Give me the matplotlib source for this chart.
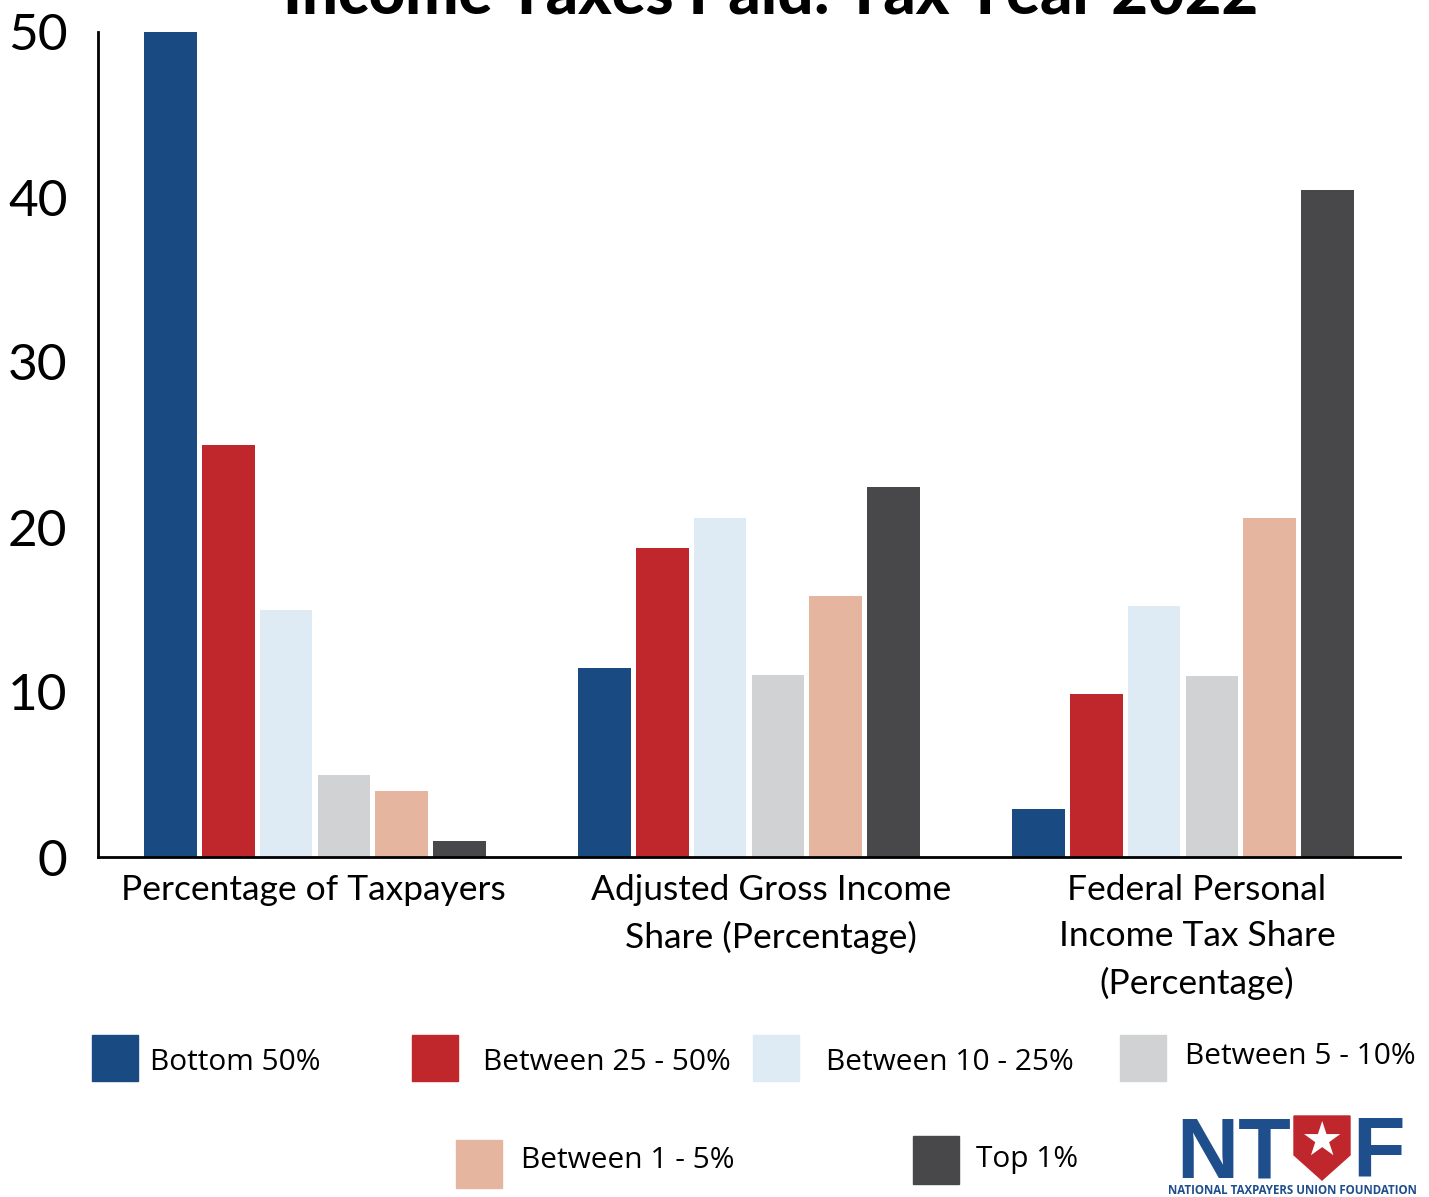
import numpy as np
import matplotlib
matplotlib.use("Agg")
import matplotlib.pyplot as plt
from matplotlib.patches import Rectangle, Polygon
from matplotlib import font_manager
import matplotlib.transforms as mtransforms

# ---------------- data ----------------
categories = ["Percentage of Taxpayers",
              "Adjusted Gross Income\nShare (Percentage)",
              "Federal Personal\nIncome Tax Share\n(Percentage)"]
series_names = ["Bottom 50%", "Between 25 - 50%", "Between 10 - 25%",
                "Between 5 - 10%", "Between 1 - 5%", "Top 1%"]
bottom_50 = [50.0, 11.44, 2.92]
between_25_50 = [25.0, 18.7, 9.9]
between_10_25 = [15.0, 20.55, 15.2]
between_5_10 = [5.0, 11.03, 10.96]
between_1_5 = [4.0, 15.82, 20.55]
top_1 = [1.0, 22.42, 40.42]
series_values = [bottom_50, between_25_50, between_10_25, between_5_10, between_1_5, top_1]
y_ticks = [0, 10, 20, 30, 40, 50]
colors = ["#1a4a82", "#c0272d", "#deeaf4", "#d1d2d4", "#e6b5a0", "#48484a"]

available = {f.name for f in font_manager.fontManager.ttflist}
def pick(*names):
    for n in names:
        if n in available:
            return n
    return "DejaVu Sans"

main_font = pick("Lato", "Open Sans", "DejaVu Sans")
legend_font = pick("Liberation Sans Narrow", "Open Sans", "DejaVu Sans")
logo_font = pick("Liberation Sans", "DejaVu Sans")

W, H = 1429, 1197
fig = plt.figure(figsize=(W / 100, H / 100), dpi=100)

def fx(x):
    return x / W
def fy(y):
    return 1 - y / H

ax = fig.add_axes([fx(98), fy(857), fx(1400) - fx(98), fy(32) - fy(857)])

x = np.arange(len(categories))
step = 0.1336
width = 0.122
for i, (name, vals, c) in enumerate(zip(series_names, series_values, colors)):
    ax.bar(x + (i - 2.5) * step, vals, width=width, color=c, label=name, zorder=2)

ax.set_xlim(-0.5, 2.5)
ax.set_ylim(0, 50)
ax.set_yticks(y_ticks)
ax.set_yticklabels([str(t) for t in y_ticks], fontsize=37, family=main_font)
ax.set_xticks(x)
ax.set_xticklabels(categories, fontsize=25.5, family=main_font, linespacing=1.55,
                   va="top")
ax.tick_params(axis="both", length=0)
ax.tick_params(axis="y", pad=22)
ax.tick_params(axis="x", pad=12)
label_shift_px = [-2, 22, 14]
for lab, dx in zip(ax.get_xticklabels(), label_shift_px):
    lab.set_transform(lab.get_transform() +
                      mtransforms.ScaledTranslation(dx / 100, 0, fig.dpi_scale_trans))
for s in ["top", "right"]:
    ax.spines[s].set_visible(False)
ax.spines["left"].set_linewidth(2)
ax.spines["bottom"].set_linewidth(2)

# title (cut off at the top as in the reference)
fig.text(fx(771), fy(13), "Income Taxes Paid: Tax Year 2022", ha="center", va="baseline",
         fontsize=45.5, fontweight="black", family=main_font)

# legend (manual layout)
legend_items = [
    (0, 92, 1035, 150, 1062),
    (1, 412, 1035, 483, 1062),
    (2, 753, 1035, 826, 1062),
    (3, 1120, 1035, 1185, 1056),
    (4, 456, 1140, 521, 1160),
    (5, 913, 1136, 976, 1160),
]
for idx, sx, sy, tx, ty in legend_items:
    size = 48 if idx >= 4 else 46
    fig.patches.append(Rectangle((fx(sx), fy(sy + size)), fx(46), size / H,
                                 transform=fig.transFigure, color=colors[idx]))
    fig.text(fx(tx), fy(ty), series_names[idx], ha="left", va="center",
             fontsize=21.5, family=legend_font)

# NTUF logo
blue = "#1f4e8c"
red = "#c0272d"
fig.text(fx(1291), fy(1177), "NT", ha="right", va="baseline", fontsize=62,
         fontweight="bold", color=blue, family=logo_font)
fig.text(fx(1352), fy(1177), "F", ha="left", va="baseline", fontsize=62,
         fontweight="bold", color=blue, family=logo_font)
shield = [(1294, 1116), (1350, 1116), (1350, 1155), (1322, 1180), (1294, 1155)]
fig.patches.append(Polygon([(fx(a), fy(b)) for a, b in shield], closed=True,
                           transform=fig.transFigure, color=red))
fig.text(fx(1322), fy(1143), "\u2605", ha="center", va="center", fontsize=34,
         color="white", family="DejaVu Sans")
fig.text(fx(1292), fy(1191), "NATIONAL TAXPAYERS UNION FOUNDATION", ha="center",
         va="center", fontsize=8.3, fontweight="bold", color=blue, family=legend_font)

fig.savefig("out.png", dpi=100, facecolor="white")
